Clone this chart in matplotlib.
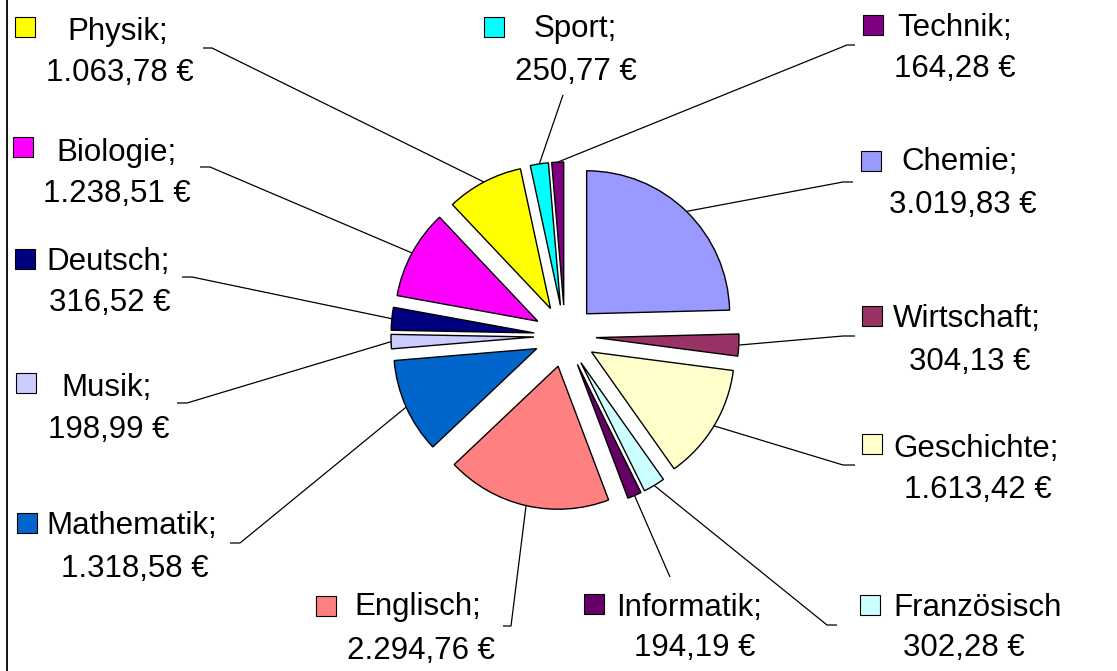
import matplotlib.pyplot as plt
from matplotlib.patches import Rectangle
import numpy as np

plt.rcParams['font.family'] = ['Liberation Sans', 'DejaVu Sans']

# Daten (im Uhrzeigersinn ab 12 Uhr)
faecher = ['Chemie', 'Wirtschaft', 'Geschichte', 'Französisch', 'Informatik',
           'Englisch', 'Mathematik', 'Musik', 'Deutsch', 'Biologie',
           'Physik', 'Sport', 'Technik']
betraege = [3019.83, 304.13, 1613.42, 302.28, 194.19,
            2294.76, 1318.58, 198.99, 316.52, 1238.51,
            1063.78, 250.77, 164.28]
farben = ['#9999FF', '#993366', '#FFFFCC', '#CCFFFF', '#660066',
          '#FF8080', '#0066CC', '#CCCCFF', '#000080', '#FF00FF',
          '#FFFF00', '#00FFFF', '#800080']
# Französisch hat im Original kein Semikolon
namen = [f + ';' if f != 'Französisch' else f for f in faecher]

# Beschriftungs-Layout in Pixeln (Quadrat x/y, Name x/Grundlinie, Wert x/Grundlinie)
layout = {
    'Chemie':      (871, 161, 960, 170, 963, 213),
    'Wirtschaft':  (872, 316, 967, 327, 970, 370),
    'Geschichte':  (872, 444, 976, 457, 978, 498),
    'Französisch': (870, 605, 978, 616, 964, 656),
    'Informatik':  (594, 604, 689, 616, 695, 656),
    'Englisch':    (326, 606, 418, 615, 421, 659),
    'Mathematik':  (27, 523, 132, 534, 135, 577),
    'Musik':       (26, 383, 107, 396, 109, 438),
    'Deutsch':     (25, 259, 108, 270, 110, 311),
    'Biologie':    (23, 147, 116, 161, 117, 202),
    'Physik':      (25, 27, 118, 40, 120, 81),
    'Sport':       (494, 27, 575, 37, 576, 80),
    'Technik':     (873, 25, 955, 36, 955, 77),
}
# Ansatzpunkte der Führungslinien (x, y, horizontaler Knick)
fuehrung = {
    'Chemie':      (853, 182, -10),
    'Wirtschaft':  (855, 336, -12),
    'Geschichte':  (855, 465, -12),
    'Französisch': (837, 625, -10),
    'Informatik':  (670, 577, 0),
    'Englisch':    (503, 626, 8),
    'Mathematik':  (230, 543, 10),
    'Musik':       (177, 403, 10),
    'Deutsch':     (182, 277, 10),
    'Biologie':    (200, 167, 10),
    'Physik':      (203, 48, 9),
    'Sport':       (563, 95, 0),
    'Technik':     (855, 45, -8),
}


def euro(v):
    s = f'{v:,.2f}'.replace(',', 'X').replace('.', ',').replace('X', '.')
    return s + ' €'


W, H = 1117, 671
fig = plt.figure(figsize=(W / 100, H / 100), dpi=100)
ax = fig.add_axes([0, 0, 1, 1])

# explode wirkt in Dateneinheiten (hier Pixel)
wedges, _ = ax.pie(betraege, colors=farben, startangle=-90, counterclock=True,
                   center=(565, 336), radius=143, explode=[31] * len(betraege),
                   wedgeprops=dict(edgecolor='black', linewidth=1.0), frame=True)

ax.set_xlim(0, W)
ax.set_ylim(H, 0)
ax.axis('off')

for w, fach, name, wert in zip(wedges, faecher, namen, betraege):
    sx, sy, nx, ny, vx, vy = layout[fach]
    ax.add_patch(Rectangle((sx - 10, sy - 10), 20, 20, facecolor=w.get_facecolor(),
                           edgecolor='black', linewidth=0.8, zorder=3))
    ax.text(nx, ny, name, ha='center', va='baseline', fontsize=22.5, color='black')
    ax.text(vx, vy, euro(wert), ha='center', va='baseline', fontsize=22.5, color='black')

    # Führungslinie zum Bogenmittelpunkt des Segments
    mid = np.deg2rad((w.theta1 + w.theta2) / 2)
    cx, cy = w.center
    px, py = cx + w.r * np.cos(mid), cy + w.r * np.sin(mid)
    lx, ly, dx = fuehrung[fach]
    ax.plot([lx, lx + dx, px], [ly, ly, py], color='black', linewidth=0.9,
            solid_capstyle='butt', zorder=1)

# linker Rahmen
ax.plot([7, 7], [0, H], color='black', linewidth=1.3)

fig.savefig('out.png', dpi=100)
